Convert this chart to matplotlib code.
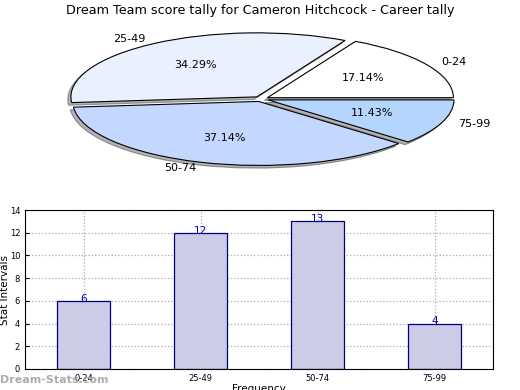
import matplotlib
matplotlib.use("Agg")
import matplotlib.pyplot as plt
import numpy as np

title = "Dream Team score tally for Cameron Hitchcock - Career tally"
categories = ["0-24", "25-49", "50-74", "75-99"]
counts = [6, 12, 13, 4]
slice_colors = ["#ffffff", "#eaf1fe", "#c4d7fe", "#b4d5fe"]

fig = plt.figure(figsize=(5.2, 3.9), dpi=100)
fig.text(0.5, 0.972, title, ha="center", va="center", fontsize=9.2)

# pie, squashed into a wide ellipse
pax = fig.add_axes([75 / 520, 227 / 390, 372 / 520, 128 / 390])
wedges, texts, autotexts = pax.pie(
    counts, labels=categories, colors=slice_colors, explode=[0.04] * 4,
    autopct="%.2f%%", pctdistance=0.6, labeldistance=1.09,
    shadow=dict(ox=-0.012, oy=-0.03, facecolor="#666666"),
    startangle=0, counterclock=True,
    wedgeprops=dict(edgecolor="black", linewidth=0.8),
    textprops=dict(fontsize=8))
pax.set_aspect("auto")
pax.set_xlim(-1, 1)
pax.set_ylim(-1, 1)
pax.axis("off")

# bar chart
bax = fig.add_axes([25 / 520, 21 / 390, 468 / 520, 159 / 390])
x = np.arange(len(categories))
bax.bar(x, counts, width=0.45, color="#ccccE6", edgecolor="#000080", linewidth=0.9, zorder=2)
for xi, v in zip(x, counts):
    bax.text(xi, v - 0.25, str(v), ha="center", va="bottom", color="#0000b0", fontsize=7.5, zorder=3)
bax.set_xlim(-0.5, 3.5)
bax.set_ylim(0, 14)
bax.set_yticks(range(0, 15, 2))
bax.set_xticks(x)
bax.set_xticklabels(categories)
bax.tick_params(labelsize=6, length=3, direction="in")
bax.grid(True, linestyle=":", color="#aaaaaa", linewidth=0.9, zorder=0)
bax.set_axisbelow(True)
bax.set_xlabel("Frequency", fontsize=7.5, labelpad=1)
fig.text(5 / 520, (390 - 290) / 390, "Stat Intervals", rotation=90, fontsize=7.5,
         ha="center", va="center")

fig.text(0.0, 0.012, "Dream-Stats.com", color="#999999", fontsize=8, fontweight="bold",
         ha="left", va="bottom", alpha=0.8)

fig.savefig("out.png", dpi=100)
